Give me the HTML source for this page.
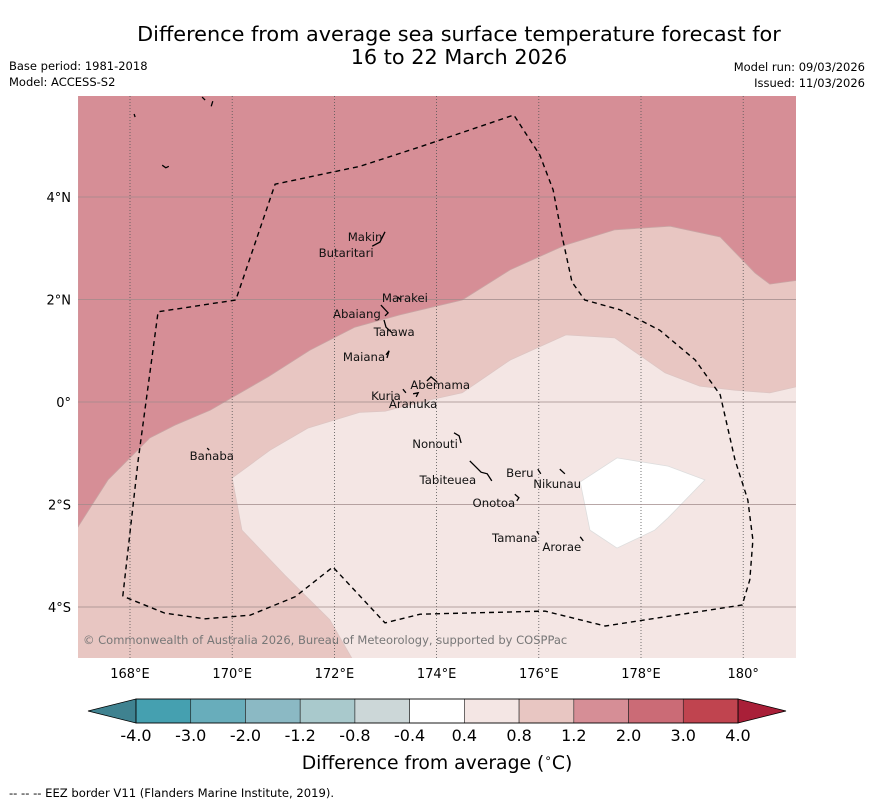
<!DOCTYPE html>
<html><head><meta charset="utf-8">
<style>
html,body{margin:0;padding:0;background:#fff;}
body{width:873px;height:804px;overflow:hidden;font-family:"DejaVu Sans","Liberation Sans",sans-serif;}
svg text{font-family:"DejaVu Sans","Liberation Sans",sans-serif;}
</style></head>
<body>
<svg id="chart" width="873" height="804" xmlns="http://www.w3.org/2000/svg">
<text x="459" y="41" font-size="20.8" text-anchor="middle" fill="#000">Difference from average sea surface temperature forecast for</text>
<text x="459" y="64" font-size="20.8" text-anchor="middle" fill="#000">16 to 22 March 2026</text>
<text x="9" y="70" font-size="11.5">Base period: 1981-2018</text>
<text x="9" y="86" font-size="11.5">Model: ACCESS-S2</text>
<text x="865" y="71" font-size="11.5" text-anchor="end">Model run: 09/03/2026</text>
<text x="865" y="87" font-size="11.5" text-anchor="end">Issued: 11/03/2026</text>
<defs><clipPath id="plotclip"><rect x="78" y="96" width="718" height="562"/></clipPath></defs>
<g id="plot" clip-path="url(#plotclip)"></g>
<g id="axes"></g>
<g id="cbar"></g>
<text x="437" y="769" font-size="18.8" text-anchor="middle">Difference from average (<tspan font-size="12" dy="-7">∘</tspan><tspan dy="7">C)</tspan></text>
<text x="9" y="797" font-size="11.6">--  --  -- EEZ border V11 (Flanders Marine Institute, 2019).</text>
</svg>
<script>
// ---- data ----
const lonTicks = [168,170,172,174,176,178,180];
const lonTickLabels = ["168°E","170°E","172°E","174°E","176°E","178°E","180°"];
const latTicks = [4,2,0,-2,-4];
const latTickLabels = ["4°N","2°N","0°","2°S","4°S"];
const band12to20 = [[166.98,6.1],[166.98,-2.44],[167.57,-1.52],[168.39,-0.70],[168.88,-0.45],[169.57,-0.16],[170.70,0.49],[171.52,1.01],[172.40,1.46],[173.28,1.70],[174.50,1.99],[175.44,2.58],[176.51,3.06],[177.49,3.36],[178.57,3.43],[179.55,3.22],[180.23,2.52],[180.52,2.30],[181.1,2.38],[181.1,6.1]];
const band04to08 = [[170.00,-1.48],[170.74,-0.94],[171.48,-0.51],[172.50,-0.20],[172.99,-0.18],[173.87,0.04],[174.50,0.18],[175.44,0.82],[176.53,1.31],[177.49,1.25],[178.47,0.57],[179.15,0.31],[179.84,0.23],[180.52,0.18],[181.1,0.31],[181.1,-5.1],[172.40,-5.1],[171.91,-4.25],[171.03,-3.38],[170.19,-2.50]];
const bandNeutral = [[176.81,-1.56],[177.53,-1.09],[178.53,-1.25],[179.25,-1.52],[178.53,-2.26],[178.27,-2.50],[177.53,-2.85],[177.00,-2.50]];
const eez = [[167.86,-3.79],[168.16,-1.13],[168.55,1.76],[170.07,1.99],[170.84,4.25],[172.50,4.60],[173.68,4.98],[175.51,5.60],[176.02,4.82],[176.28,4.14],[176.45,3.26],[176.65,2.34],[176.90,1.99],[177.59,1.80],[178.37,1.40],[179.06,0.82],[179.55,0.14],[179.84,-1.13],[180.09,-1.91],[180.19,-2.69],[180.13,-3.47],[179.98,-3.96],[177.30,-4.37],[176.12,-4.08],[173.68,-4.14],[172.99,-4.31],[171.97,-3.22],[171.23,-3.80],[170.35,-4.16],[169.47,-4.23],[168.68,-4.12],[167.86,-3.79]];
const islandShapes = [
 [[172.74,3.04],[172.89,3.12],[172.99,3.32]],
 [[173.24,2.05],[173.30,1.99]],
 [[172.91,1.89],[173.05,1.74],[172.99,1.68]],
 [[172.97,1.60],[173.01,1.46],[173.13,1.35]],
 [[173.01,0.92],[173.07,1.00],[173.03,0.86]],
 [[173.81,0.41],[173.89,0.49],[174.01,0.39]],
 [[173.34,0.25],[173.40,0.18]],
 [[173.54,0.16],[173.64,0.18],[173.60,0.10]],
 [[174.34,-0.60],[174.44,-0.66],[174.48,-0.80]],
 [[174.65,-1.15],[174.79,-1.29],[174.87,-1.37],[174.99,-1.40],[175.08,-1.54]],
 [[175.98,-1.31],[176.04,-1.40]],
 [[176.41,-1.31],[176.51,-1.40]],
 [[175.53,-1.80],[175.61,-1.87],[175.57,-1.93]],
 [[175.96,-2.52],[176.00,-2.58]],
 [[176.81,-2.63],[176.87,-2.71]],
 [[169.51,-0.90],[169.55,-0.94]],
 [[168.08,5.62],[168.10,5.56]],
 [[169.41,5.95],[169.47,5.89]],
 [[169.62,5.87],[169.59,5.77]],
 [[168.63,4.62],[168.70,4.57],[168.76,4.60]]
];
const islandNames = ["Makin","Butaritari","Marakei","Abaiang","Tarawa","Maiana","Abemama","Kuria","Aranuka","Nonouti","Tabiteuea","Beru","Nikunau","Onotoa","Tamana","Arorae","Banaba"];
const islandLon = [172.60,172.23,173.38,172.44,173.17,172.58,174.07,173.01,173.54,173.97,174.22,175.63,176.36,175.12,175.53,176.45,169.60];
const islandLat = [3.22,2.91,2.03,1.72,1.37,0.88,0.33,0.12,-0.04,-0.82,-1.52,-1.39,-1.60,-1.97,-2.65,-2.83,-1.05];
const cbarLabels = ["-4.0","-3.0","-2.0","-1.2","-0.8","-0.4","0.4","0.8","1.2","2.0","3.0","4.0"];
const cbarColors = ["#45a0b0","#68adbb","#8bb9c4","#a9c9cc","#ccd7d8","#ffffff","#f4e6e4","#e8c6c2","#d68e96","#cb6b76","#c0444f"];

// ---- axes ----
const NS="http://www.w3.org/2000/svg";
const X = lon => 130 + (lon-168)*51.1;
const Y = lat => 402 - lat*51.25;
function mk(tag, attrs, parent){const e=document.createElementNS(NS,tag);for(const k in attrs)e.setAttribute(k,attrs[k]);parent.appendChild(e);return e;}
const pts = arr => arr.map(p=>X(p[0]).toFixed(1)+","+Y(p[1]).toFixed(1)).join(" ");
const plot=document.getElementById("plot"), axes=document.getElementById("axes"), cbar=document.getElementById("cbar");

let bg=mk("rect",{x:78,y:96,width:718,height:562,fill:"#e8c6c2"},plot);


let p1=mk("polygon",{points:pts(band12to20),fill:"#d68e96",stroke:"#c9a3a3","stroke-width":0.8},plot);


let p2=mk("polygon",{points:pts(band04to08),fill:"#f4e6e4",stroke:"#ddc5c3","stroke-width":0.8},plot);


let p3=mk("polygon",{points:pts(bandNeutral),fill:"#ffffff",stroke:"#ddd","stroke-width":0.8},plot);



lonTicks.forEach((lon,i)=>{
  const gl=mk("line",{x1:X(lon),x2:X(lon),y1:96,y2:658,stroke:"#555","stroke-width":0.8,"stroke-dasharray":"1,2"},plot);
  
  
  const t=mk("text",{x:X(lon),y:678,"font-size":13,"text-anchor":"middle"},axes);
  t.textContent=lonTickLabels[i];
  
  
});
latTicks.forEach((lat,i)=>{
  const gl=mk("line",{x1:78,x2:796,y1:Y(lat),y2:Y(lat),stroke:"#a08a8a","stroke-width":0.8},plot);
  
  
  const t=mk("text",{x:71,y:Y(lat)+5,"font-size":13,"text-anchor":"end"},axes);
  t.textContent=latTickLabels[i];
  
  
});

let ez=mk("polyline",{points:pts(eez),fill:"none",stroke:"#000","stroke-width":1.4,"stroke-dasharray":"5,4"},plot);


islandShapes.forEach(s=>{
  const e=mk("polyline",{points:pts(s),fill:"none",stroke:"#000","stroke-width":1.3},plot);
  
  
});
islandNames.forEach((n,i)=>{
  const t=mk("text",{x:X(islandLon[i]),y:Y(islandLat[i])+4,"font-size":11.7,"text-anchor":"middle",fill:"#111"},plot);
  t.textContent=n;
  
  
});
let cp=mk("text",{x:83,y:644,"font-size":11.5,fill:"#777"},plot);
cp.textContent="© Commonwealth of Australia 2026, Bureau of Meteorology, supported by COSPPac";



let frame=mk("rect",{x:78,y:96,width:718,height:562,fill:"none",stroke:"none"},axes);



// ---- colorbar ----
const cx0=136, cx1=738, cy0=699, cy1=723, cw=(cx1-cx0)/cbarColors.length;
let lt=mk("polygon",{points:`88,711 ${cx0},${cy0} ${cx0},${cy1}`,fill:"#3f8290",stroke:"#000","stroke-width":0.8},cbar);


let rt=mk("polygon",{points:`786,711 ${cx1},${cy0} ${cx1},${cy1}`,fill:"#a91f38",stroke:"#000","stroke-width":0.8},cbar);


cbarColors.forEach((c,i)=>{
  const r=mk("rect",{x:cx0+i*cw,y:cy0,width:cw,height:cy1-cy0,fill:c,stroke:"#222","stroke-width":0.6},cbar);
  
  
});
mk("rect",{x:cx0,y:cy0,width:cx1-cx0,height:cy1-cy0,fill:"none",stroke:"#000","stroke-width":0.8},cbar);
cbarLabels.forEach((l,i)=>{
  const t=mk("text",{x:cx0+i*cw,y:741,"font-size":16,"text-anchor":"middle"},cbar);
  t.textContent=l;
  
  
});
</script>
</body></html>
